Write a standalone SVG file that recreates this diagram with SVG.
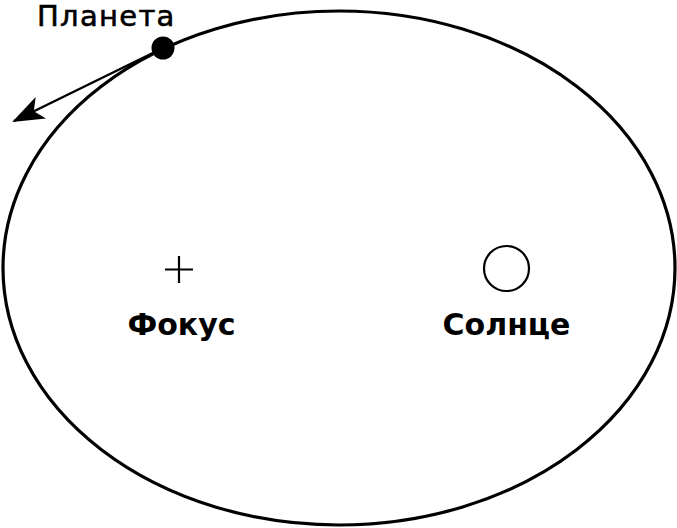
<svg xmlns="http://www.w3.org/2000/svg" width="677" height="528" viewBox="0 0 677 528">
<style>
.line{fill:none;stroke:#000;stroke-width:3.2}
.lbl{font-family:"DejaVu Sans",sans-serif;fill:#000}
.big{font-size:30px;font-weight:bold}
</style>
<defs>
<marker id="ah" markerUnits="userSpaceOnUse" viewBox="0 0 34 24" refX="30" refY="12" markerWidth="34" markerHeight="24" orient="auto">
<path d="M0,0 L32,12 L0,24 L8,12 Z" fill="#000"/>
</marker>
</defs>
<rect width="677" height="528" fill="#fff"/>
<g id="orbit"><ellipse class="line" cx="339" cy="268" rx="336" ry="257"/></g>
<g id="connectors"><line x1="163" y1="48" x2="14" y2="121" stroke="#000" stroke-width="2.5" marker-end="url(#ah)"/></g>
<g id="planet"><circle cx="163" cy="48" r="11.5" fill="#000"/><text class="lbl" x="37" y="26" font-size="29" letter-spacing="1.3" stroke="#000" stroke-width="0.6">Планета</text></g>
<g id="focus"><path d="M165,269.5H193M179,256V283" stroke="#000" stroke-width="2.2"/><text class="lbl big" x="181.5" y="335" text-anchor="middle">Фокус</text></g>
<g id="sun"><circle cx="506.5" cy="268.5" r="22.5" fill="#fff" stroke="#000" stroke-width="2.2"/><text class="lbl big" x="506.5" y="335" text-anchor="middle">Солнце</text></g>
</svg>
